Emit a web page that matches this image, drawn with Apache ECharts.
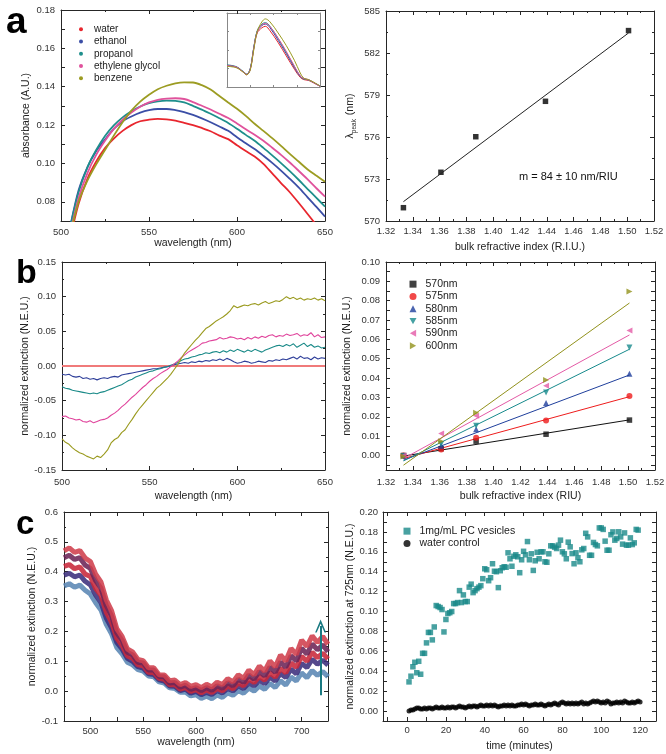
<!DOCTYPE html>
<html><head><meta charset="utf-8">
<script src="https://cdn.jsdelivr.net/npm/echarts@6/dist/echarts.min.js"></script>
<style>html,body{margin:0;padding:0;background:#fff}#c{width:666px;height:754px}</style>
</head><body><div id="c"></div>
<script>
// ---------- Panel a (left): absorbance spectra ----------
const aNames = ['water','ethanol','propanol','ethylene glycol','benzene'];
const aColors = ['#e8262e','#3b4ea6','#1e8f8c','#e0529c','#9c9c22'];
const aX = [505,510,515,520,525,530,535,540,545,550,555,560,565,570,575,580,585,590,595,600,605,610,615,620,625,630,635,640,645,650];
const aWater = [0.060,0.079,0.092,0.101,0.108,0.113,0.117,0.120,0.122,0.1228,0.1232,0.1230,0.1223,0.1212,0.1200,0.1185,0.1168,0.1145,0.1127,0.1095,0.1065,0.1036,0.0998,0.0948,0.0898,0.0850,0.0795,0.0738,0.0680,0.0620];
const aEthanol = [0.066,0.086,0.098,0.1065,0.1125,0.118,0.122,0.1245,0.1265,0.1278,0.1284,0.1284,0.1278,0.1268,0.1253,0.1235,0.1215,0.1193,0.1170,0.1137,0.1105,0.1075,0.1040,0.1003,0.0963,0.0920,0.0875,0.0825,0.0775,0.0723];
const aPropanol = [0.066,0.085,0.098,0.107,0.1143,0.1198,0.1240,0.1272,0.1297,0.1314,0.1324,0.1328,0.1326,0.1318,0.1300,0.1281,0.1259,0.1236,0.1211,0.1181,0.1149,0.1118,0.1081,0.1042,0.1002,0.0960,0.0915,0.0868,0.0822,0.0775];
const aGlycol = [0.063,0.082,0.095,0.1045,0.1118,0.118,0.1228,0.1266,0.1296,0.1318,0.1332,0.1338,0.1340,0.1336,0.1320,0.1301,0.1281,0.1259,0.1237,0.1208,0.1178,0.1150,0.1118,0.1082,0.1045,0.1005,0.0962,0.0918,0.0872,0.0827];
const aBenzene = [0.062,0.080,0.091,0.0995,0.107,0.1145,0.1215,0.1275,0.1322,0.1358,0.1387,0.1405,0.1418,0.1423,0.1422,0.1408,0.1385,0.1352,0.1318,0.1285,0.1248,0.1207,0.1170,0.1132,0.1092,0.1050,0.1010,0.0970,0.0937,0.0905];
const aSeries = [aWater,aEthanol,aPropanol,aGlycol,aBenzene];

// inset: full extinction spectra
const insetX = [400,440,470,485,500,515,530,550,565,585,620,655,690,715,730,750,770,800];
const insetWater = [0.29,0.27,0.20,0.165,0.24,0.52,0.73,0.80,0.82,0.76,0.60,0.42,0.24,0.13,0.10,0.09,0.06,0.01];
const insetEthanol = [0.29,0.27,0.205,0.17,0.245,0.53,0.75,0.83,0.85,0.80,0.63,0.45,0.26,0.14,0.11,0.095,0.065,0.01];
const insetPropanol = [0.30,0.275,0.21,0.175,0.25,0.53,0.76,0.85,0.87,0.82,0.655,0.47,0.275,0.145,0.11,0.10,0.065,0.015];
const insetGlycol = [0.29,0.27,0.205,0.17,0.24,0.52,0.75,0.84,0.86,0.815,0.66,0.48,0.28,0.15,0.115,0.10,0.065,0.012];
const insetBenzene = [0.28,0.26,0.20,0.165,0.23,0.50,0.75,0.88,0.92,0.88,0.73,0.56,0.36,0.19,0.12,0.10,0.07,0.015];
const insetSeries = [insetWater,insetEthanol,insetPropanol,insetGlycol,insetBenzene];

// ---------- Panel a (right): peak wavelength vs RI ----------
const riX = [1.333,1.361,1.387,1.439,1.501];
const peakY = [570.95,573.48,576.02,578.55,583.6];
const peakFitX = [1.333,1.501];
const peakFitY = [571.38,583.43];

// ---------- Panel b (left): difference spectra ----------
const bStart = 500, bStep = 2;
const bBlue = [-0.012,-0.013,-0.012,-0.015,-0.016,-0.015,-0.018,-0.017,-0.019,-0.018,-0.020,-0.018,-0.017,-0.018,-0.016,-0.015,-0.016,-0.013,-0.012,-0.011,-0.010,-0.009,-0.008,-0.007,-0.006,-0.005,-0.004,-0.004,-0.003,-0.002,-0.001,0.000,0.002,0.003,0.004,0.005,0.004,0.006,0.005,0.007,0.006,0.008,0.007,0.009,0.008,0.010,0.008,0.011,0.009,0.006,0.004,0.005,0.007,0.006,0.004,0.005,0.007,0.006,0.005,0.008,0.007,0.009,0.008,0.010,0.009,0.011,0.013,0.010,0.014,0.011,0.012,0.009,0.013,0.010,0.012,0.011];
const bTeal = [-0.030,-0.032,-0.033,-0.035,-0.036,-0.037,-0.038,-0.039,-0.040,-0.039,-0.040,-0.038,-0.037,-0.035,-0.033,-0.031,-0.029,-0.027,-0.024,-0.021,-0.019,-0.016,-0.014,-0.012,-0.010,-0.008,-0.007,-0.005,-0.004,-0.002,-0.001,0.001,0.003,0.005,0.008,0.010,0.011,0.013,0.014,0.016,0.017,0.019,0.018,0.020,0.021,0.019,0.022,0.020,0.023,0.021,0.024,0.022,0.020,0.023,0.021,0.024,0.022,0.020,0.023,0.025,0.027,0.029,0.030,0.028,0.031,0.029,0.032,0.027,0.030,0.033,0.028,0.031,0.027,0.029,0.026,0.027];
const bPink = [-0.073,-0.072,-0.075,-0.076,-0.078,-0.077,-0.080,-0.081,-0.079,-0.082,-0.080,-0.078,-0.077,-0.075,-0.071,-0.068,-0.064,-0.059,-0.055,-0.050,-0.045,-0.041,-0.036,-0.031,-0.027,-0.022,-0.018,-0.015,-0.011,-0.008,-0.005,-0.001,0.003,0.007,0.012,0.016,0.020,0.023,0.026,0.029,0.033,0.034,0.036,0.037,0.038,0.041,0.039,0.040,0.042,0.041,0.039,0.040,0.038,0.041,0.039,0.042,0.040,0.043,0.041,0.044,0.045,0.042,0.044,0.043,0.046,0.044,0.045,0.047,0.043,0.045,0.044,0.048,0.042,0.045,0.041,0.042];
const bOlive = [-0.105,-0.110,-0.113,-0.118,-0.122,-0.125,-0.127,-0.130,-0.132,-0.134,-0.130,-0.132,-0.127,-0.121,-0.111,-0.106,-0.103,-0.096,-0.092,-0.084,-0.077,-0.069,-0.062,-0.056,-0.050,-0.044,-0.038,-0.032,-0.028,-0.023,-0.018,-0.012,-0.005,0.002,0.011,0.019,0.025,0.031,0.037,0.042,0.048,0.054,0.057,0.061,0.065,0.068,0.071,0.075,0.080,0.087,0.084,0.086,0.088,0.087,0.089,0.090,0.088,0.091,0.093,0.090,0.092,0.094,0.093,0.096,0.100,0.097,0.099,0.096,0.098,0.095,0.097,0.096,0.098,0.095,0.097,0.094];
const bZeroX = [500,650];
const bZeroY = [0,0];

// ---------- Panel b (right): extinction vs RI ----------
const bNames = ['570nm','575nm','580nm','585nm','590nm','600nm'];
const bColors = ['#111111','#ee1c1c','#1f3f9c','#168a8c','#e45aa6','#92921c'];
const bSymbols = ['rect','circle','triangle','path://M0,0L10,0L5,9Z','path://M9,0L9,10L0,5Z','path://M0,0L0,10L9,5Z'];
const ext570 = [0.000,0.0035,0.0074,0.0110,0.0183];
const ext575 = [0.000,0.0031,0.0092,0.0181,0.0307];
const ext580 = [0.000,0.0050,0.0136,0.0271,0.0423];
const ext585 = [-0.0003,0.0060,0.0154,0.0325,0.0558];
const ext590 = [0.000,0.0114,0.0206,0.0361,0.0646];
const ext600 = [-0.0005,0.0074,0.0221,0.0390,0.0848];
const extSeries = [ext570,ext575,ext580,ext585,ext590,ext600];
const fitX = [1.333,1.501];
const fit570 = [-0.0003,0.0184];
const fit575 = [-0.0016,0.0304];
const fit580 = [-0.0024,0.0416];
const fit585 = [-0.0028,0.0549];
const fit590 = [-0.0016,0.0623];
const fit600 = [-0.0050,0.0788];
const fitSeries = [fit570,fit575,fit580,fit585,fit590,fit600];

// ---------- Panel c (left): time series of spectra ----------
const cX = [475,480,485,490,495,500,505,510,515,520,525,530,535,540,545,550,555,560,565,570,575,580,585,590,595,600,605,610,615,620,625,630,635,640,645,650,655,660,665,670,675,680,685,690,695,700,705,710,715,720,725];
const cSpec1 = [0.352,0.360,0.348,0.355,0.338,0.325,0.296,0.272,0.224,0.192,0.146,0.125,0.097,0.088,0.072,0.067,0.051,0.048,0.031,0.027,0.011,0.009,-0.004,-0.003,-0.016,-0.012,-0.024,-0.017,-0.025,-0.013,-0.021,-0.006,-0.014,0.002,-0.007,0.010,0.000,0.017,0.006,0.026,0.012,0.035,0.020,0.047,0.034,0.061,0.045,0.069,0.053,0.066,0.048];
const cSpec2 = [0.388,0.395,0.383,0.389,0.368,0.356,0.322,0.297,0.245,0.212,0.163,0.141,0.110,0.100,0.082,0.077,0.058,0.056,0.038,0.034,0.017,0.016,0.002,0.007,-0.007,-0.001,-0.012,-0.004,-0.011,0.002,-0.006,0.009,0.001,0.018,0.009,0.027,0.018,0.036,0.025,0.047,0.034,0.059,0.046,0.074,0.058,0.093,0.079,0.107,0.090,0.104,0.087];
const cSpec3 = [0.418,0.424,0.410,0.416,0.392,0.384,0.344,0.321,0.264,0.231,0.177,0.153,0.118,0.110,0.088,0.085,0.063,0.062,0.043,0.040,0.021,0.022,0.007,0.012,-0.001,0.005,-0.006,0.004,-0.005,0.009,0.001,0.017,0.008,0.028,0.018,0.040,0.029,0.049,0.037,0.062,0.047,0.076,0.061,0.094,0.080,0.117,0.100,0.130,0.112,0.127,0.108];
const cSpec4 = [0.447,0.455,0.441,0.447,0.422,0.411,0.370,0.345,0.287,0.252,0.195,0.170,0.130,0.121,0.097,0.094,0.071,0.071,0.049,0.048,0.027,0.029,0.013,0.020,0.006,0.012,0.002,0.012,0.003,0.018,0.010,0.028,0.018,0.040,0.029,0.054,0.040,0.066,0.051,0.081,0.063,0.098,0.080,0.118,0.101,0.144,0.124,0.158,0.138,0.155,0.132];
const cSpec5 = [0.470,0.480,0.465,0.471,0.446,0.434,0.392,0.366,0.306,0.270,0.209,0.183,0.141,0.131,0.106,0.102,0.078,0.078,0.055,0.054,0.035,0.037,0.022,0.029,0.016,0.022,0.012,0.023,0.014,0.030,0.022,0.042,0.031,0.055,0.043,0.070,0.055,0.084,0.067,0.101,0.081,0.121,0.101,0.143,0.123,0.171,0.150,0.185,0.163,0.183,0.157];
const cSpectra = [cSpec1,cSpec2,cSpec3,cSpec4,cSpec5];
const cColors = ['#5a86b4','#3c2f7c','#c8283a','#6c2456','#cf3f4c'];
const arrowX = 718, arrowFrom = -0.014, arrowTo = 0.218;

// ---------- Panel c (right): kinetics at 725 nm ----------
const cNames = ['1mg/mL PC vesicles','water control'];
const vesicles = [0.0293,0.035,0.0445,0.049,0.0385,0.050,0.037,0.058,0.058,0.0685,
0.079,0.079,0.0715,0.0845,0.106,0.105,0.104,0.102,0.0795,0.092,
0.098,0.0988,0.100,0.108,0.108,0.109,0.121,0.109,0.1167,0.110,
0.110,0.1245,0.1275,0.119,0.121,0.123,0.1245,0.126,0.133,0.143,
0.142,0.131,0.134,0.148,0.1405,0.140,0.124,0.141,0.144,0.145,
0.1445,0.159,0.153,0.1455,0.1555,0.157,0.155,0.139,0.152,0.1605,
0.157,0.1703,0.152,0.158,0.1413,0.151,0.1595,0.153,0.160,0.160,
0.150,0.1495,0.158,0.166,0.166,0.1647,0.1633,0.1667,0.1717,0.160,
0.158,0.153,0.1697,0.165,0.1582,0.148,0.159,0.154,0.150,0.162,
0.1633,0.1786,0.175,0.1565,0.1565,0.1694,0.1673,0.166,0.184,0.184,
0.1825,0.1707,0.1616,0.1616,0.1772,0.180,0.1717,0.1734,0.1801,0.175,
0.1677,0.179,0.1667,0.1667,0.174,0.1673,0.169,0.1825,0.1818];
const waterCtrl = [0.000,0.001,0.001,0.002,0.003,0.003,0.002,0.002,0.003,0.002,
0.003,0.003,0.002,0.003,0.004,0.003,0.003,0.004,0.003,0.003,
0.004,0.003,0.004,0.004,0.003,0.004,0.005,0.004,0.004,0.003,
0.004,0.005,0.004,0.005,0.005,0.004,0.005,0.006,0.005,0.005,
0.006,0.005,0.006,0.005,0.006,0.005,0.004,0.005,0.005,0.006,
0.005,0.006,0.005,0.006,0.005,0.005,0.006,0.006,0.007,0.006,
0.007,0.006,0.005,0.006,0.006,0.007,0.006,0.006,0.007,0.006,
0.005,0.006,0.007,0.006,0.007,0.008,0.007,0.006,0.008,0.009,
0.008,0.007,0.008,0.007,0.008,0.007,0.008,0.007,0.008,0.009,
0.007,0.008,0.007,0.008,0.009,0.010,0.009,0.010,0.009,0.008,
0.009,0.008,0.010,0.009,0.007,0.008,0.008,0.009,0.008,0.009,
0.008,0.010,0.009,0.008,0.008,0.009,0.008,0.009,0.010,0.009];

// ================== chart construction ==================
const FONT = 'Liberation Sans, Arial, Helvetica, sans-serif';
const AXC = '#262626';
const pairs = (xs, ys) => ys.map((y, i) => [xs[i], y]);
const seqX = (start, step, n) => Array.from({length:n}, (_, i) => +(start + i*step).toFixed(4));

function mkAxis(dim, g, c) {
  const col = c.color || AXC;
  const main = {
    type:'value', gridIndex:g, min:c.min, max:c.max,
    position: dim === 'x' ? 'bottom' : 'left',
    axisLine:{show:true, onZero:false, lineStyle:{color:col, width:1}},
    axisTick:{show:true, inside:true, length:c.tickLen || 4, lineStyle:{color:col, width:1}},
    minorTick:{show:!!c.minor, splitNumber:c.minor || 2, length:2, lineStyle:{color:col, width:1}},
    splitLine:{show:false},
    axisLabel:{show:c.labels !== false, fontSize:9.5, color:'#333', margin:c.margin || 5, fontFamily:FONT},
    name:c.name || '', nameLocation:'middle', nameGap:c.nameGap || 20,
    nameTextStyle:Object.assign({fontSize:10.5, color:'#222', fontFamily:FONT}, c.nameStyle || {})
  };
  if (c.interval != null) main.interval = c.interval;
  if (c.labelValues) main.axisLabel.customValues = c.labelValues;
  if (c.tickValues) main.axisTick.customValues = c.tickValues;
  const mirror = JSON.parse(JSON.stringify(main));
  if (c.fmt) main.axisLabel.formatter = c.fmt;
  mirror.position = dim === 'x' ? 'top' : 'right';
  mirror.axisLabel = {show:false};
  mirror.name = '';
  return [main, mirror];
}
const evenFmt = v => { const k = Math.round(v*100); return (k >= 0 && k % 2 === 0) ? v.toFixed(2) : ''; };

const grids = [
  {left:61, top:10, width:264, height:211},
  {left:386, top:11, width:268, height:210},
  {left:62, top:262, width:263, height:208},
  {left:386, top:262, width:269, height:208},
  {left:64, top:512, width:264, height:209},
  {left:383, top:512, width:273, height:209},
  {left:227, top:13, width:93, height:74}
].map(g => Object.assign({outerBoundsMode:'none', containLabel:false}, g));

const xAxes = [], yAxes = [];
function addAxes(g, xc, yc) { xAxes.push(...mkAxis('x', g, xc)); yAxes.push(...mkAxis('y', g, yc)); }

addAxes(0, {min:500, max:650, interval:50, minor:2, name:'wavelength (nm)', nameGap:12, margin:6, fmt:v=>v.toFixed(0)},
           {min:0.07, max:0.18, interval:0.01, fmt:evenFmt, name:'absorbance (A.U.)', nameGap:29, margin:6});
addAxes(1, {min:1.32, max:1.52, interval:0.02, minor:2, name:'bulk refractive index (R.I.U.)', nameGap:21, margin:5, fmt:v=>v.toFixed(2)},
           {min:570, max:585, interval:3, minor:2, name:'{n|λ}{s|peak}{n| (nm)}', nameGap:28, margin:6,
            nameStyle:{rich:{n:{fontSize:10.5, color:'#222', fontFamily:FONT, lineHeight:16}, s:{fontSize:6.5, color:'#222', fontFamily:FONT, lineHeight:16, verticalAlign:'bottom', padding:[0,1,0,0]}}}});
addAxes(2, {min:500, max:650, interval:50, minor:2, name:'wavelength (nm)', nameGap:21, margin:7, fmt:v=>v.toFixed(0)},
           {min:-0.15, max:0.15, interval:0.05, minor:2, name:'normalized extinction (N.E.U.)', nameGap:27, margin:6, fmt:v=>v.toFixed(2)});
addAxes(3, {min:1.32, max:1.52, interval:0.02, minor:2, name:'bulk refractive index (RIU)', nameGap:21, margin:7, fmt:v=>v.toFixed(2)},
           {min:-0.0075, max:0.10, labelValues:[0,0.01,0.02,0.03,0.04,0.05,0.06,0.07,0.08,0.09,0.10],
            tickValues:[-0.005,0,0.005,0.01,0.015,0.02,0.025,0.03,0.035,0.04,0.045,0.05,0.055,0.06,0.065,0.07,0.075,0.08,0.085,0.09,0.095,0.10],
            fmt:v=>v.toFixed(2), name:'normalized extinction (N.E.U.)', nameGap:33, margin:6});
addAxes(4, {min:475, max:725, interval:25, name:'wavelength (nm)', nameGap:12, margin:5, fmt:v=>(v % 50 === 0 && v >= 500 && v <= 700) ? String(v) : ''},
           {min:-0.1, max:0.6, interval:0.1, minor:2, name:'normalized extinction (N.E.U.)', nameGap:26, margin:6, fmt:v=>v.toFixed(1)});
addAxes(5, {min:-12.4, max:128.2, labelValues:[0,20,40,60,80,100,120], tickValues:[-10,0,10,20,30,40,50,60,70,80,90,100,110,120],
            name:'time (minutes)', nameGap:20, margin:4, fmt:v=>String(v)},
           {min:-0.01, max:0.20, interval:0.01, fmt:evenFmt, name:'normalized extinction at 725nm (N.E.U.)', nameGap:22, margin:5});
addAxes(6, {min:400, max:800, interval:100, labels:false, color:'#888', tickLen:2},
           {min:0, max:1, interval:0.25, labels:false, color:'#888', tickLen:2});

const series = [];
const ax = g => ({xAxisIndex:2*g, yAxisIndex:2*g});
// a-left
aSeries.forEach((ys, i) => series.push(Object.assign({type:'line', name:aNames[i], data:pairs(aX, ys), smooth:0.3, showSymbol:false,
  lineStyle:{color:aColors[i], width:1.8}, itemStyle:{color:aColors[i]}, z:3+i}, ax(0))));
// inset
insetSeries.forEach((ys, i) => series.push(Object.assign({type:'line', name:'inset '+aNames[i], data:pairs(insetX, ys), smooth:0.35, showSymbol:false,
  lineStyle:{color:aColors[i], width:1}, itemStyle:{color:aColors[i]}}, ax(6))));
// a-right
series.push(Object.assign({type:'line', name:'peak fit', data:pairs(peakFitX, peakFitY), showSymbol:false, lineStyle:{color:'#222', width:1}}, ax(1)));
series.push(Object.assign({type:'scatter', name:'peak', data:pairs(riX, peakY), symbol:'rect', symbolSize:5.5, itemStyle:{color:'#000'}}, ax(1)));
// b-left
const bX = seqX(bStart, bStep, bBlue.length);
series.push(Object.assign({type:'line', name:'ref water', data:pairs(bZeroX, bZeroY), showSymbol:false, lineStyle:{color:'#f07a7a', width:2}}, ax(2)));
[[bBlue,'#2f3f9a'],[bTeal,'#1a8a88'],[bPink,'#e0449c'],[bOlive,'#9a9a1e']].forEach(([ys, col], i) =>
  series.push(Object.assign({type:'line', name:'diff'+i, data:pairs(bX, ys), showSymbol:false, lineStyle:{color:col, width:1.1}}, ax(2))));
// b-right
fitSeries.forEach((ys, i) => series.push(Object.assign({type:'line', name:'fit '+bNames[i], data:pairs(fitX, ys), showSymbol:false,
  lineStyle:{color:bColors[i], width:1}}, ax(3))));
extSeries.forEach((ys, i) => series.push(Object.assign({type:'scatter', name:bNames[i], data:pairs(riX, ys), symbol:bSymbols[i],
  symbolSize:i === 0 ? 5.5 : 6, itemStyle:{color:bColors[i]}, z:5}, ax(3))));
// c-left
cSpectra.forEach((ys, i) => series.push(Object.assign({type:'line', name:'spec'+i, data:pairs(cX, ys), showSymbol:false,
  lineStyle:{color:cColors[i], width:5, opacity:0.88}}, ax(4))));
series.push(Object.assign({type:'line', name:'arrow', data:[], showSymbol:false,
  markLine:{silent:true, symbol:['none','path://M0,10L5,0L10,10L8.6,10L5,3.2L1.4,10Z'], symbolSize:[11,13],
    lineStyle:{color:'#1a7a82', width:2, type:'solid'}, label:{show:false},
    data:[[{coord:[arrowX, arrowFrom]}, {coord:[arrowX, arrowTo]}]]}}, ax(4)));
// c-right
const vesT = seqX(1, 1, vesicles.length);
const ctrlT = seqX(1, 1, waterCtrl.length);
series.push(Object.assign({type:'scatter', name:cNames[1], data:pairs(ctrlT, waterCtrl), symbol:'circle', symbolSize:5, itemStyle:{color:'#000'}}, ax(5)));
series.push(Object.assign({type:'scatter', name:cNames[0], data:pairs(vesT, vesicles), symbol:'rect', symbolSize:5.5, itemStyle:{color:'#1a8a8a'}}, ax(5)));

const legendBase = {orient:'vertical', itemGap:0, selectedMode:false, textStyle:{fontSize:10, color:'#222', fontFamily:FONT, lineHeight:12.3}};
const legends = [
  Object.assign({}, legendBase, {data:aNames, left:74, top:18, icon:'circle', itemWidth:4, itemHeight:4,
    textStyle:Object.assign({}, legendBase.textStyle, {padding:[0,0,0,6]})}),
  Object.assign({}, legendBase, {data:bNames, left:404.5, top:273, itemWidth:7, itemHeight:7,
    textStyle:Object.assign({}, legendBase.textStyle, {fontSize:10.5, padding:[0,0,0,4]})}),
  Object.assign({}, legendBase, {data:cNames, left:398.5, top:520, itemWidth:7, itemHeight:7,
    textStyle:Object.assign({}, legendBase.textStyle, {fontSize:10.5, padding:[0,0,0,4]})})
];

const graphic = [
  {type:'text', left:6, top:4, style:{text:'a', font:'bold 37px ' + FONT, fill:'#000'}},
  {type:'text', left:16, top:257, style:{text:'b', font:'bold 34px ' + FONT, fill:'#000'}},
  {type:'text', left:16, top:508, style:{text:'c', font:'bold 33px ' + FONT, fill:'#000'}},
  {type:'text', left:519, top:171, style:{text:'m = 84 \u00b1 10 nm/RIU', font:'11px ' + FONT, fill:'#111'}}
];

const chart = echarts.init(document.getElementById('c'), null, {renderer:'canvas'});
chart.setOption({
  backgroundColor:'#fff', animation:false, textStyle:{fontFamily:FONT},
  grid:grids, xAxis:xAxes, yAxis:yAxes, series:series, legend:legends, graphic:graphic
});
</script></body></html>
